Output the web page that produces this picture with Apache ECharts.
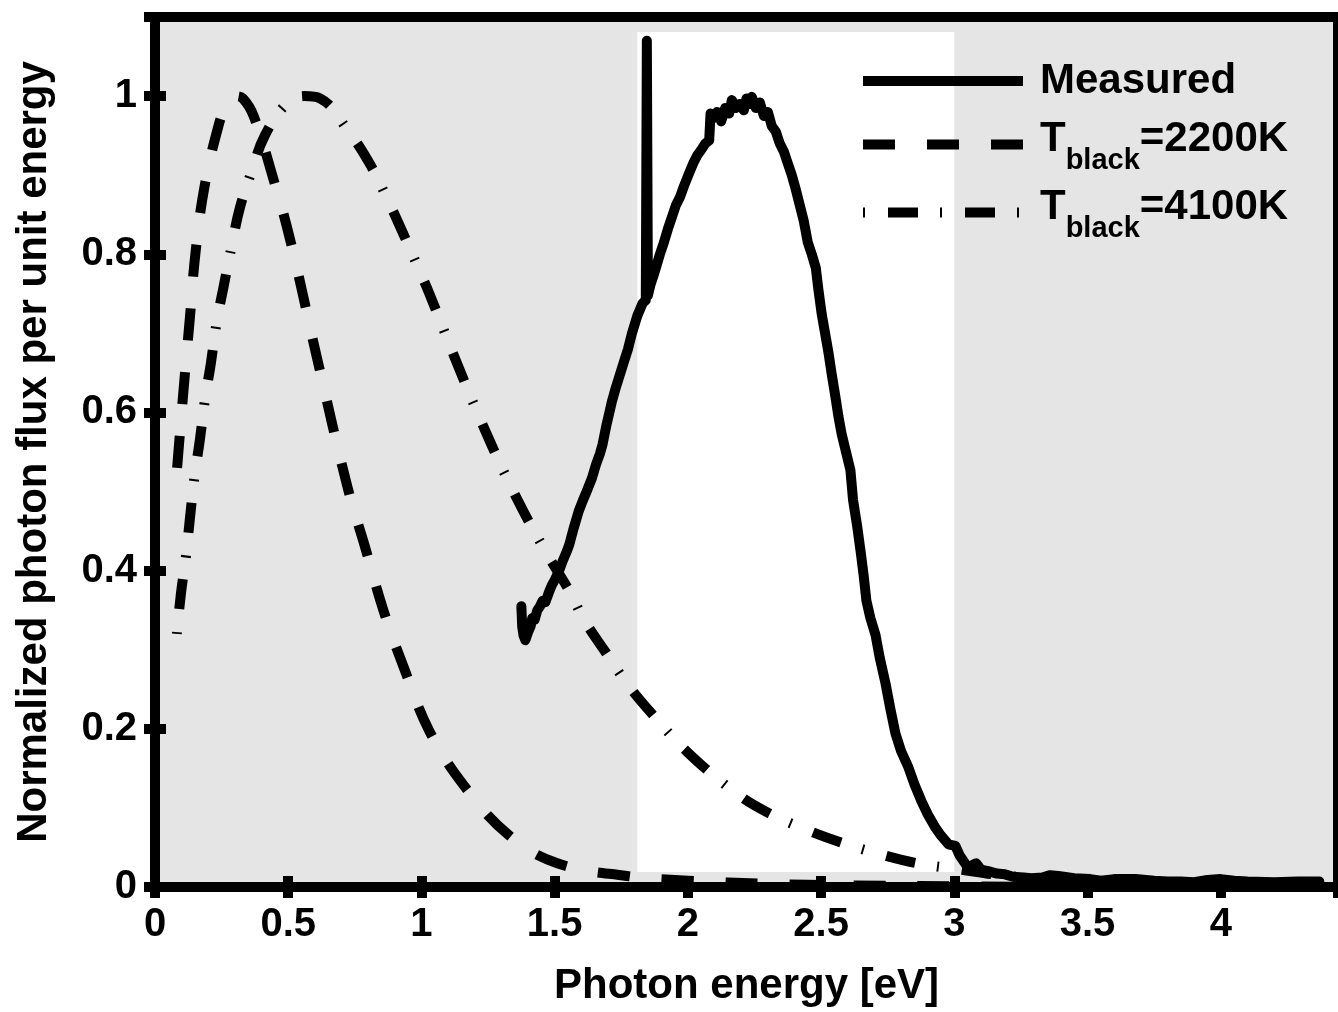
<!DOCTYPE html>
<html>
<head>
<meta charset="utf-8">
<script src="https://cdn.jsdelivr.net/npm/echarts@6/dist/echarts.min.js"></script>
<style>
  html, body { margin: 0; padding: 0; background: #ffffff; }
  #chart { width: 1338px; height: 1012px; }
</style>
</head>
<body>
<div id="chart"></div>
<script>
// Measured emission spectrum (photon energy in eV, normalized flux)
const measuredEnergy = [
  1.375, 1.378, 1.383, 1.39, 1.40, 1.41, 1.416, 1.425, 1.435, 1.445, 1.455, 1.465,
  1.48, 1.49, 1.50, 1.517, 1.53, 1.545, 1.555, 1.57, 1.59, 1.605, 1.62, 1.64,
  1.655, 1.67, 1.68, 1.695, 1.715, 1.73, 1.745, 1.76, 1.775, 1.79, 1.81, 1.83,
  1.842, 1.846, 1.85, 1.86, 1.87, 1.88, 1.895, 1.91, 1.925, 1.94, 1.955, 1.97,
  1.985, 2.004, 2.02, 2.035, 2.05, 2.065, 2.08, 2.085, 2.095, 2.11, 2.125, 2.14,
  2.155, 2.165, 2.18, 2.195, 2.21, 2.22, 2.23, 2.24, 2.255, 2.27, 2.285, 2.30,
  2.315, 2.33, 2.345, 2.36, 2.375, 2.39, 2.405, 2.42, 2.435, 2.45, 2.465, 2.48,
  2.49, 2.502, 2.515, 2.528, 2.54, 2.554, 2.565, 2.577, 2.592, 2.61, 2.62, 2.635,
  2.648, 2.66, 2.67, 2.685, 2.704, 2.72, 2.742, 2.76, 2.779, 2.80, 2.828, 2.85,
  2.876, 2.90, 2.929, 2.95, 2.978, 3.004, 3.02, 3.04, 3.052, 3.07, 3.082, 3.10,
  3.127, 3.16, 3.19, 3.22, 3.26, 3.29, 3.33, 3.36, 3.39, 3.45, 3.51, 3.55,
  3.60, 3.68, 3.75, 3.80, 3.85, 3.90, 3.95, 4.00, 4.05, 4.10, 4.20, 4.29, 4.37
];
const measuredFlux = [
  0.355, 0.33, 0.318, 0.312, 0.322, 0.33, 0.34, 0.338, 0.35, 0.355, 0.362, 0.36,
  0.374, 0.382, 0.388, 0.40, 0.412, 0.424, 0.433, 0.452, 0.475, 0.488, 0.50, 0.517,
  0.534, 0.548, 0.56, 0.585, 0.614, 0.632, 0.648, 0.664, 0.68, 0.70, 0.722, 0.738,
  0.742, 1.07, 0.748, 0.762, 0.772, 0.783, 0.80, 0.815, 0.832, 0.847, 0.862, 0.872,
  0.886, 0.902, 0.915, 0.925, 0.932, 0.94, 0.944, 0.978, 0.972, 0.98, 0.968, 0.985,
  0.978, 0.995, 0.985, 0.99, 0.982, 0.997, 0.99, 0.999, 0.985, 0.992, 0.975, 0.98,
  0.962, 0.955, 0.94, 0.93, 0.915, 0.90, 0.882, 0.862, 0.842, 0.815, 0.80, 0.783,
  0.755, 0.725, 0.70, 0.675, 0.648, 0.619, 0.595, 0.573, 0.552, 0.527, 0.489, 0.457,
  0.425, 0.393, 0.362, 0.34, 0.319, 0.29, 0.257, 0.225, 0.194, 0.172, 0.151, 0.13,
  0.109, 0.092, 0.075, 0.065, 0.054, 0.052, 0.04, 0.03, 0.024, 0.028, 0.03, 0.022,
  0.02, 0.017, 0.016, 0.013, 0.012, 0.011, 0.012, 0.015, 0.014, 0.011, 0.01, 0.008,
  0.01, 0.01, 0.008, 0.007, 0.007, 0.006, 0.009, 0.01, 0.008, 0.007, 0.006, 0.007, 0.007
];

// Blackbody spectrum, T = 2200 K
const black2200Energy = [
  0.083, 0.09, 0.11, 0.131, 0.152, 0.185, 0.238, 0.27, 0.30, 0.33, 0.37, 0.44,
  0.506, 0.61, 0.723, 0.79, 0.858, 0.94, 1.03, 1.16, 1.33, 1.51, 1.77, 2.0,
  2.3, 2.6, 3.0, 3.5, 4.0, 4.44
];
const black2200Flux = [
  0.53, 0.559, 0.64, 0.72, 0.802, 0.884, 0.962, 0.99, 1.0, 0.997, 0.975, 0.90,
  0.82, 0.666, 0.505, 0.428, 0.349, 0.272, 0.197, 0.128, 0.065, 0.03, 0.014, 0.008,
  0.004, 0.002, 0.001, 0, 0, 0
];

// Blackbody spectrum, T = 4100 K
const black4100Energy = [
  0.082, 0.097, 0.116, 0.131, 0.148, 0.169, 0.187, 0.21, 0.231, 0.258, 0.287, 0.318,
  0.362, 0.412, 0.493, 0.56, 0.62, 0.723, 0.805, 0.869, 0.929, 0.989, 1.03, 1.142,
  1.255, 1.36, 1.468, 1.554, 1.61, 1.693, 1.772, 1.865, 2.0, 2.18, 2.30, 2.44,
  2.577, 2.715, 2.86, 3.004, 3.2, 3.5, 3.8, 4.1, 4.44
];
const black4100Flux = [
  0.32, 0.37, 0.418, 0.466, 0.518, 0.567, 0.615, 0.663, 0.713, 0.76, 0.809, 0.858,
  0.904, 0.95, 0.99, 1.0, 0.997, 0.957, 0.915, 0.872, 0.828, 0.782, 0.75, 0.655,
  0.565, 0.49, 0.423, 0.375, 0.338, 0.296, 0.257, 0.219, 0.17, 0.119, 0.094, 0.073,
  0.056, 0.042, 0.03, 0.023, 0.014, 0.008, 0.004, 0.002, 0.001
];

// Visible-light window (eV) and its vertical extent (normalized flux)
const visibleBandEnergy = [1.81, 3.0];
const visibleBandFlux = [0.019, 1.081];

// Axis ranges and tick steps
const energyRange = [0, 4.44];
const energyTickStep = 0.5;
const fluxRange = [0, 1.1];
const fluxTickStep = 0.2;

const seriesNames = ['Measured', 'T_black=2200K', 'T_black=4100K'];
const legendLabels = {
  'Measured': '{m|Measured}',
  'T_black=2200K': '{h|T}{s|black}{t|=2200K}',
  'T_black=4100K': '{h|T}{s|black}{t|=4100K}'
};

const FONT = '"Liberation Sans", Arial, Helvetica, sans-serif';
const LINE_W = 10;
const toPoints = (xs, ys) => xs.map((x, i) => [x, ys[i]]);

const legendRich = {
  m: { fontFamily: FONT, fontWeight: 'bold', fontSize: 42, color: '#000', lineHeight: 50, padding: [0, 0, 0, 12] },
  h: { fontFamily: FONT, fontWeight: 'bold', fontSize: 42, color: '#000', lineHeight: 50, padding: [0, 0, 10, 12] },
  t: { fontFamily: FONT, fontWeight: 'bold', fontSize: 42, color: '#000', lineHeight: 50, padding: [0, 0, 10, 0] },
  s: { fontFamily: FONT, fontWeight: 'bold', fontSize: 29, color: '#000', lineHeight: 30, padding: [33, 0, 0, 0] }
};

function legendFor(name, top) {
  return {
    data: [name],
    left: 858,
    top: top,
    padding: 0,
    itemWidth: 160,
    itemHeight: 20,
    selectedMode: false,
    formatter: n => legendLabels[n],
    textStyle: { rich: legendRich },
    lineStyle: { width: LINE_W, cap: 'butt' },
    itemStyle: { opacity: 0, borderWidth: 0 }
  };
}

const tickLabelStyle = {
  fontFamily: FONT, fontWeight: 'bold', fontSize: 40, color: '#000'
};
const nameStyle = {
  fontFamily: FONT, fontWeight: 'bold', fontSize: 42, color: '#000'
};
const tickStyle = { show: true, inside: true, length: 11, lineStyle: { color: '#000', width: 10 } };

const option = {
  animation: false,
  backgroundColor: '#ffffff',
  grid: {
    left: 155, top: 17, width: 1185, height: 870,
    show: true,
    backgroundColor: '#e5e5e5',
    borderColor: '#000',
    borderWidth: 10
  },
  legend: [
    legendFor(seriesNames[0], 60),
    legendFor(seriesNames[1], 113.5),
    legendFor(seriesNames[2], 181.5)
  ],
  xAxis: [
    {
      type: 'value', position: 'bottom',
      min: energyRange[0], max: energyRange[1], interval: energyTickStep,
      name: 'Photon energy [eV]', nameLocation: 'middle', nameGap: 78,
      nameTextStyle: nameStyle,
      axisLine: { show: false },
      axisTick: tickStyle,
      splitLine: { show: false },
      axisLabel: Object.assign({ margin: 18, showMaxLabel: false }, tickLabelStyle)
    },
    {
      type: 'value', position: 'top',
      min: energyRange[0], max: energyRange[1], interval: energyTickStep,
      axisLine: { show: false },
      axisTick: tickStyle,
      splitLine: { show: false },
      axisLabel: { show: false }
    }
  ],
  yAxis: [
    {
      type: 'value', position: 'left',
      min: fluxRange[0], max: fluxRange[1], interval: fluxTickStep,
      name: 'Normalized photon flux per unit energy', nameLocation: 'middle', nameGap: 100,
      nameTextStyle: nameStyle,
      axisLine: { show: false },
      axisTick: tickStyle,
      splitLine: { show: false },
      axisLabel: Object.assign({ margin: 18, showMaxLabel: false }, tickLabelStyle)
    },
    {
      type: 'value', position: 'right',
      min: fluxRange[0], max: fluxRange[1], interval: fluxTickStep,
      axisLine: { show: false },
      axisTick: tickStyle,
      splitLine: { show: false },
      axisLabel: { show: false }
    }
  ],
  series: [
    {
      // white window marking the visible range
      type: 'line', name: 'visible', data: [], z: 1, silent: true,
      markArea: {
        silent: true,
        itemStyle: { color: '#ffffff', opacity: 1, borderWidth: 0 },
        label: { show: false },
        data: [[
          { xAxis: visibleBandEnergy[0], yAxis: visibleBandFlux[0] },
          { xAxis: visibleBandEnergy[1], yAxis: visibleBandFlux[1] }
        ]]
      }
    },
    {
      type: 'line', name: seriesNames[0], z: 3,
      data: toPoints(measuredEnergy, measuredFlux),
      symbol: 'none', smooth: false,
      lineStyle: { color: '#000', width: LINE_W, type: 'solid', cap: 'round', join: 'round' }
    },
    {
      type: 'line', name: seriesNames[1], z: 4,
      data: toPoints(black2200Energy, black2200Flux),
      symbol: 'none', smooth: 0.4,
      lineStyle: { color: '#000', width: LINE_W, type: [32, 32], cap: 'butt', join: 'round' }
    },
    {
      type: 'line', name: seriesNames[2], z: 5,
      data: toPoints(black4100Energy, black4100Flux),
      symbol: 'none', smooth: 0.4,
      lineStyle: { color: '#000', width: LINE_W, type: [2, 23, 30, 22], cap: 'butt', join: 'round' }
    }
  ]
};

const chart = echarts.init(document.getElementById('chart'), null, { renderer: 'canvas' });
chart.setOption(option);
</script>
</body>
</html>
